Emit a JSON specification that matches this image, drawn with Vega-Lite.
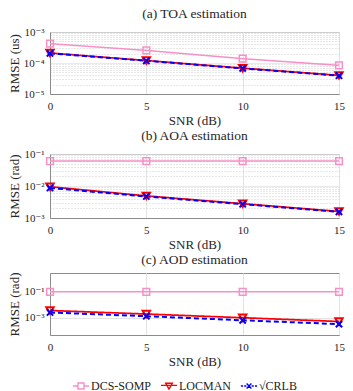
{
  "$schema": "https://vega.github.io/schema/vega-lite/v6.json",
  "padding": {"left": 7, "top": 6, "right": 10, "bottom": 2},
  "spacing": 0,
  "config": {
    "font": "'Liberation Serif', 'DejaVu Serif', serif",
    "view": {"stroke": "#8c8c8c", "strokeWidth": 1},
    "title": {"font": "'Liberation Serif', 'DejaVu Serif', serif", "fontSize": 13.5, "fontWeight": "normal", "offset": 6, "anchor": "middle", "color": "#262626"},
    "axis": {
      "labelFont": "'Liberation Serif', 'DejaVu Serif', serif", "labelFontSize": 11, "labelColor": "#262626",
      "titleFont": "'Liberation Serif', 'DejaVu Serif', serif", "titleFontSize": 13, "titleFontWeight": "normal", "titleColor": "#262626",
      "domainColor": "#8c8c8c", "ticks": false, "labelPadding": 6, "titlePadding": 2, "gridColor": "#e3e3e3"
    },
    "axisX": {"titlePadding": 3}
  },
  "datasets": {
    "toa": [
      {"series": "DCS-SOMP", "snr": 0, "value": 0.00042},
      {"series": "DCS-SOMP", "snr": 5, "value": 0.000255},
      {"series": "DCS-SOMP", "snr": 10, "value": 0.000138},
      {"series": "DCS-SOMP", "snr": 15, "value": 0.000084},
      {"series": "LOCMAN", "snr": 0, "value": 0.00021},
      {"series": "LOCMAN", "snr": 5, "value": 0.00012},
      {"series": "LOCMAN", "snr": 10, "value": 0.000068},
      {"series": "LOCMAN", "snr": 15, "value": 0.00004},
      {"series": "√CRLB", "snr": 0, "value": 0.000205},
      {"series": "√CRLB", "snr": 5, "value": 0.000118},
      {"series": "√CRLB", "snr": 10, "value": 0.000067},
      {"series": "√CRLB", "snr": 15, "value": 0.000039}
    ],
    "aoa": [
      {"series": "DCS-SOMP", "snr": 0, "value": 0.06},
      {"series": "DCS-SOMP", "snr": 5, "value": 0.06},
      {"series": "DCS-SOMP", "snr": 10, "value": 0.06},
      {"series": "DCS-SOMP", "snr": 15, "value": 0.06},
      {"series": "LOCMAN", "snr": 0, "value": 0.0095},
      {"series": "LOCMAN", "snr": 5, "value": 0.0049},
      {"series": "LOCMAN", "snr": 10, "value": 0.0028},
      {"series": "LOCMAN", "snr": 15, "value": 0.0016},
      {"series": "√CRLB", "snr": 0, "value": 0.0087},
      {"series": "√CRLB", "snr": 5, "value": 0.0047},
      {"series": "√CRLB", "snr": 10, "value": 0.0027},
      {"series": "√CRLB", "snr": 15, "value": 0.00155}
    ],
    "aod": [
      {"series": "DCS-SOMP", "snr": 0, "value": 0.09},
      {"series": "DCS-SOMP", "snr": 5, "value": 0.09},
      {"series": "DCS-SOMP", "snr": 10, "value": 0.09},
      {"series": "DCS-SOMP", "snr": 15, "value": 0.09},
      {"series": "LOCMAN", "snr": 0, "value": 0.0035},
      {"series": "LOCMAN", "snr": 5, "value": 0.0019},
      {"series": "LOCMAN", "snr": 10, "value": 0.001},
      {"series": "LOCMAN", "snr": 15, "value": 0.00052},
      {"series": "√CRLB", "snr": 0, "value": 0.0025},
      {"series": "√CRLB", "snr": 5, "value": 0.0013},
      {"series": "√CRLB", "snr": 10, "value": 0.00064},
      {"series": "√CRLB", "snr": 15, "value": 0.00033}
    ]
  },
  "vconcat": [
    {
      "width": 289, "height": 62,
      "title": "(a) TOA estimation",
      "data": {"name": "toa"},
      "encoding": {
        "x": {"field": "snr", "type": "quantitative", "scale": {"domain": [0, 15], "nice": false, "zero": false}, "axis": {"title": "SNR (dB)", "values": [0, 5, 10, 15], "labelFlush": false}},
        "y": {"field": "value", "type": "quantitative", "scale": {"type": "log", "domain": [0.00001, 0.001], "nice": false},
          "axis": {"title": "RMSE (us)",
            "values": [0.00001, 0.00002, 0.00003, 0.00004, 0.00005, 0.00006, 0.00007, 0.00008, 0.00009, 0.0001, 0.0002, 0.0003, 0.0004, 0.0005, 0.0006, 0.0007, 0.0008, 0.0009, 0.001],
            "labelExpr": "abs(log(datum.value)/LN10 - round(log(datum.value)/LN10)) < 0.01 ? '10⁻' + ['⁰','¹','²','³','⁴','⁵','⁶'][abs(round(log(datum.value)/LN10))] : ''",
            "gridDash": {"condition": {"test": "abs(log(datum.value)/LN10 - round(log(datum.value)/LN10)) < 0.01", "value": [1, 0]}, "value": [1, 2]},
            "gridColor": {"condition": {"test": "abs(log(datum.value)/LN10 - round(log(datum.value)/LN10)) < 0.01", "value": "#e3e3e3"}, "value": "#cfcfcf"}
          }},
        "color": {"field": "series", "type": "nominal", "scale": {"range": ["#F78FC8", "#FF0000", "#0000FF"]}, "legend": null}
      },
      "layer": [
        {"mark": {"type": "line"}, "encoding": {
          "strokeDash": {"field": "series", "type": "nominal", "scale": {"range": [[1, 0], [1, 0], [5, 3]]}, "legend": null},
          "strokeWidth": {"field": "series", "type": "nominal", "scale": {"range": [1.5, 2, 2]}, "legend": null}}},
        {"transform": [{"filter": "datum.series === 'DCS-SOMP'"}], "mark": {"type": "point", "shape": "square", "filled": false, "size": 45, "strokeWidth": 1.5, "opacity": 1}},
        {"transform": [{"filter": "datum.series === 'LOCMAN'"}], "mark": {"type": "point", "shape": "triangle-down", "filled": false, "size": 55, "strokeWidth": 2, "opacity": 1}},
        {"transform": [{"filter": "datum.series === '√CRLB'"}], "mark": {"type": "point", "shape": "M-1,-1L1,1M-1,1L1,-1", "filled": false, "size": 40, "strokeWidth": 2, "opacity": 1}}
      ]
    },
    {
      "width": 289, "height": 64,
      "title": "(b) AOA estimation",
      "data": {"name": "aoa"},
      "encoding": {
        "x": {"field": "snr", "type": "quantitative", "scale": {"domain": [0, 15], "nice": false, "zero": false}, "axis": {"title": "SNR (dB)", "values": [0, 5, 10, 15], "labelFlush": false}},
        "y": {"field": "value", "type": "quantitative", "scale": {"type": "log", "domain": [0.001, 0.1], "nice": false},
          "axis": {"title": "RMSE (rad)",
            "values": [0.001, 0.002, 0.003, 0.004, 0.005, 0.006, 0.007, 0.008, 0.009, 0.01, 0.02, 0.03, 0.04, 0.05, 0.06, 0.07, 0.08, 0.09, 0.1],
            "labelExpr": "abs(log(datum.value)/LN10 - round(log(datum.value)/LN10)) < 0.01 ? '10⁻' + ['⁰','¹','²','³','⁴','⁵','⁶'][abs(round(log(datum.value)/LN10))] : ''",
            "gridDash": {"condition": {"test": "abs(log(datum.value)/LN10 - round(log(datum.value)/LN10)) < 0.01", "value": [1, 0]}, "value": [1, 2]},
            "gridColor": {"condition": {"test": "abs(log(datum.value)/LN10 - round(log(datum.value)/LN10)) < 0.01", "value": "#e3e3e3"}, "value": "#cfcfcf"}
          }},
        "color": {"field": "series", "type": "nominal", "scale": {"range": ["#F78FC8", "#FF0000", "#0000FF"]}, "legend": null}
      },
      "layer": [
        {"mark": {"type": "line"}, "encoding": {
          "strokeDash": {"field": "series", "type": "nominal", "scale": {"range": [[1, 0], [1, 0], [5, 3]]}, "legend": null},
          "strokeWidth": {"field": "series", "type": "nominal", "scale": {"range": [1.5, 2, 2]}, "legend": null}}},
        {"transform": [{"filter": "datum.series === 'DCS-SOMP'"}], "mark": {"type": "point", "shape": "square", "filled": false, "size": 45, "strokeWidth": 1.5, "opacity": 1}},
        {"transform": [{"filter": "datum.series === 'LOCMAN'"}], "mark": {"type": "point", "shape": "triangle-down", "filled": false, "size": 55, "strokeWidth": 2, "opacity": 1}},
        {"transform": [{"filter": "datum.series === '√CRLB'"}], "mark": {"type": "point", "shape": "M-1,-1L1,1M-1,1L1,-1", "filled": false, "size": 40, "strokeWidth": 2, "opacity": 1}}
      ]
    },
    {
      "width": 289, "height": 62,
      "title": "(c) AOD estimation",
      "data": {"name": "aod"},
      "encoding": {
        "x": {"field": "snr", "type": "quantitative", "scale": {"domain": [0, 15], "nice": false, "zero": false}, "axis": {"title": "SNR (dB)", "values": [0, 5, 10, 15], "labelFlush": false}},
        "y": {"field": "value", "type": "quantitative", "scale": {"type": "log", "domain": [0.00005, 2.34], "nice": false},
          "axis": {"title": "RMSE (rad)",
            "values": [0.001, 0.1],
            "labelExpr": "'10⁻' + ['⁰','¹','²','³','⁴','⁵','⁶'][abs(round(log(datum.value)/LN10))]"
          }}
      },
      "layer": [
        {"mark": {"type": "line"}, "encoding": {
          "color": {"field": "series", "type": "nominal", "scale": {"range": ["#F78FC8", "#FF0000", "#0000FF"]}, "legend": null},
          "strokeDash": {"field": "series", "type": "nominal", "scale": {"range": [[1, 0], [1, 0], [5, 3]]}, "legend": null},
          "strokeWidth": {"field": "series", "type": "nominal", "scale": {"range": [1.5, 2, 2]}, "legend": null}}},
        {"transform": [{"filter": "datum.series === 'DCS-SOMP'"}], "mark": {"type": "point", "shape": "square", "filled": false, "size": 45, "strokeWidth": 1.5, "opacity": 1, "color": "#F78FC8"}},
        {"transform": [{"filter": "datum.series === 'LOCMAN'"}], "mark": {"type": "point", "shape": "triangle-down", "filled": false, "size": 55, "strokeWidth": 2, "opacity": 1, "color": "#FF0000"}},
        {"transform": [{"filter": "datum.series === '√CRLB'"}], "mark": {"type": "point", "shape": "M-1,-1L1,1M-1,1L1,-1", "filled": false, "size": 40, "strokeWidth": 2, "opacity": 1, "color": "#0000FF"}},
        {"mark": {"type": "point", "filled": false, "strokeWidth": 1.4, "opacity": 0},
          "encoding": {
            "stroke": {"field": "series", "type": "nominal", "scale": {"domain": ["DCS-SOMP", "LOCMAN", "√CRLB"], "range": ["#F78FC8", "#FF0000", "#0000FF"]},
              "legend": {"title": null, "orient": "none", "legendX": 24, "legendY": 347, "direction": "horizontal", "symbolSize": 144, "symbolOpacity": 1, "symbolStrokeWidth": 1.4, "labelFont": "'Liberation Serif', 'DejaVu Serif', serif", "labelFontSize": 12, "labelColor": "#262626", "labelOffset": 3, "columnPadding": 6}},
            "shape": {"field": "series", "type": "nominal", "scale": {"domain": ["DCS-SOMP", "LOCMAN", "√CRLB"], "range": [
                "M-1.35,0H-0.5M0.5,0H1.35M-0.5,-0.5H0.5V0.5H-0.5Z",
                "M-1.35,-0.1H1.35M-0.55,-0.45H0.55L0,0.5Z",
                "M-1.35,0H-1M-0.8,0H-0.45M0.45,0H0.8M1,0H1.35M-0.4,-0.4L0.4,0.4M-0.4,0.4L0.4,-0.4"]},
              "legend": {"title": null, "orient": "none", "legendX": 24, "legendY": 347, "direction": "horizontal", "symbolSize": 144, "symbolOpacity": 1, "symbolStrokeWidth": 1.4, "labelFont": "'Liberation Serif', 'DejaVu Serif', serif", "labelFontSize": 12, "labelColor": "#262626", "labelOffset": 3, "columnPadding": 6}}
          }}
      ]
    }
  ]
}
